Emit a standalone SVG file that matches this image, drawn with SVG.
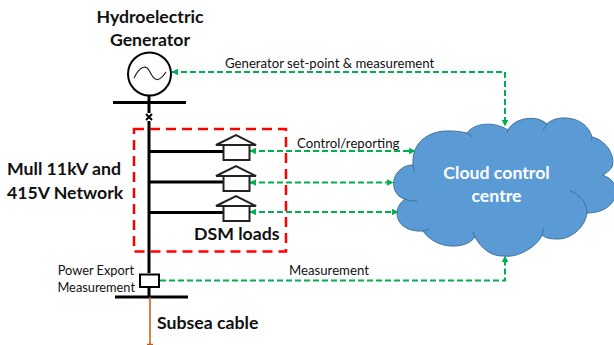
<svg xmlns="http://www.w3.org/2000/svg" width="614" height="345" viewBox="0 0 614 345">
<style>
text{font-family:Lato,"Liberation Sans",sans-serif;fill:#111}
.b{font-weight:700;font-size:17.700px}
.s{font-size:13.200px}
.k{stroke:#000;fill:none;stroke-width:3}
.g{stroke:#00b050;fill:none;stroke-width:2;stroke-dasharray:6 3}
.h{fill:#fff;stroke:#222;stroke-width:2}
</style>
<defs>
<marker id="a" viewBox="0 0 6 6" refX="5.500" refY="3" markerWidth="6.500" markerHeight="6.500" orient="auto-start-reverse" markerUnits="userSpaceOnUse"><path d="M0 0L6 3L0 6z" fill="#00b050"/></marker>
<g id="house"><path class="h" d="M216 0L236 -10L256 0z"/><rect class="h" x="223.500" y="0" width="26" height="15"/></g>
</defs>
<g id="network">
<path class="k" d="M149 96V113M149 121V273M149 288V297"/>
<path d="M113 102.500H186M115 297H188" class="k"/>
<path d="M146 114L152 120M152 114L146 120" stroke="#000" stroke-width="2"/>
<path d="M149 151.500H224M149 182H224M149 212.500H224" class="k"/>
<path d="M150 297V344M147 344.500H153" stroke="#c55a11" stroke-width="1.500" fill="none"/>
</g>
<g id="connectors">
<path class="g" d="M172 72H505V126" marker-start="url(#a)" marker-end="url(#a)"/>
<path class="g" d="M250 151H415" marker-start="url(#a)" marker-end="url(#a)"/>
<path class="g" d="M250 182.500H393" marker-start="url(#a)" marker-end="url(#a)"/>
<path class="g" d="M250 212H398" marker-start="url(#a)" marker-end="url(#a)"/>
<path class="g" d="M160 280.500H505V256" marker-end="url(#a)"/>
</g>
<g id="generator">
<circle cx="149.500" cy="74" r="21.500" fill="#fff" stroke="#000" stroke-width="2"/>
<path d="M134 78C140 66 146 64 150 72S158 84 166 72" fill="none" stroke="#222" stroke-width="1.200"/>
<text class="b" text-anchor="middle" x="150" y="23">Hydroelectric</text>
<text class="b" text-anchor="middle" x="150" y="46">Generator</text>
</g>
<g id="dsm-region">
<rect x="134" y="129" width="152" height="122.500" fill="none" stroke="#f00" stroke-width="2.500" stroke-dasharray="10 6"/>
<text class="b" x="194" y="240">DSM loads</text>
</g>
<g id="dsm-load-1"><use href="#house" y="145"/></g>
<g id="dsm-load-2"><use href="#house" y="176"/></g>
<g id="dsm-load-3"><use href="#house" y="206"/></g>
<g id="network-label">
<text class="b" x="7" y="175">Mull 11kV and</text>
<text class="b" x="7" y="199">415V Network</text>
</g>
<g id="meter">
<rect x="140" y="274.500" width="19" height="12.500" fill="#fff" stroke="#000" stroke-width="2"/>
<text class="s" text-anchor="end" x="134" y="275" style="font-size:12.800px">Power Export</text>
<text class="s" text-anchor="end" x="135" y="292" style="font-size:12.800px">Measurement</text>
</g>
<g id="cloud">
<path d="M413 163C412 140 432 130 450 131C458 131 462 132 467 133C473 124 492 120 508 130C514 118 536 114 547 124C556 114 586 115 592 137C606 140 616 156 612 167C610 170 606 174 602 175C612 178 616 184 616 195C612 208 600 213 587 213C585 228 570 240 556 239C551 239 545 238 542 235C538 246 518 258 505 256C491 257 481 248 475 237C466 250 436 250 423 231C410 232 397 226 397 213C397 207 401 202 405 199C392 196 390 178 400 170C404 166 409 165 413 165Z" fill="#5b9bd5" stroke="#41719c" stroke-width="1"/>
<path d="M413 165C413 167 414 170 415 172M405 199C409 201 414 201 417 201M423 231C425 230 427 230 429 229M475 237C474 235 474 234 473 232M542 235C543 232 543 230 543 228M587 213C587 204 580 194 570 191M592 137C592 139 592 140 591 141M543 130C545 128 546 126 547 124M508 130C508 131 507 132 507 133M467 133C469 134 471 135 472 137" fill="none" stroke="#41719c" stroke-width="1"/>
<text class="b" style="fill:#fff" text-anchor="middle" x="496.500" y="179">Cloud control</text>
<text class="b" style="fill:#fff" text-anchor="middle" x="496.500" y="202">centre</text>
</g>
<g id="labels">
<text class="s" x="225" y="68">Generator set-point &amp; measurement</text>
<text class="s" x="297" y="148">Control/reporting</text>
<text class="s" x="289" y="275">Measurement</text>
<text class="b" x="157" y="329">Subsea cable</text>
</g>
</svg>
